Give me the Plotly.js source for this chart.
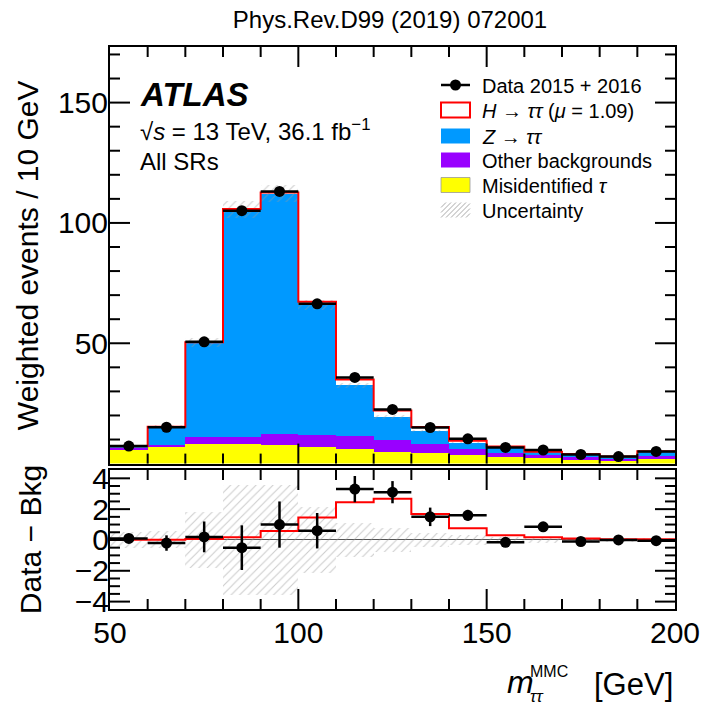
<!DOCTYPE html>
<html>
<head>
<meta charset="utf-8">
<script src="https://cdn.plot.ly/plotly-3.0.1.min.js"></script>
<style>html,body{margin:0;padding:0;background:#fff;}#chart{width:704px;height:710px;}</style>
</head>
<body>
<div id="chart"></div>
<script>
// ---- data ----
const binCenters = [55, 65, 75, 85, 95, 105, 115, 125, 135, 145, 155, 165, 175, 185, 195];
const misidTau   = [5.6, 6.7, 8.3, 8.0, 7.8, 6.7, 6.1, 4.8, 4.4, 3.6, 2.8, 2.2, 1.7, 1.1, 1.9];
const otherBkg   = [0.8, 1.1, 2.8, 3.1, 4.7, 5.3, 5.3, 5.2, 3.9, 2.4, 1.6, 1.4, 1.1, 0.8, 1.1];
const zTauTau    = [0.8, 7.5, 39.3, 94.5, 99.6, 53.8, 21.1, 9.4, 5.2, 2.7, 2.45, 1.2, 1.1, 1.0, 2.1];
const hTauTau    = [0.02, 0.02, 0.06, 0.17, 0.58, 1.45, 2.45, 2.68, 1.69, 0.76, 0.30, 0.17, 0.09, 0.04, 0.04];
const dataVals   = [7.3, 15.1, 50.6, 105.1, 113.1, 66.4, 35.8, 22.5, 15.0, 10.3, 6.7, 5.65, 3.8, 2.9, 5.05];
const dataErr    = [0.3, 0.5, 1.0, 1.45, 1.5, 1.15, 0.85, 0.72, 0.6, 0.35, 0.2, 0.3, 0.2, 0.15, 0.15];
const bkgUnc     = [0.5, 0.55, 1.8, 3.55, 3.55, 2.15, 1.08, 0.75, 0.45, 0.3, 0.2, 0.2, 0.15, 0.15, 0.15];
const xTickVals  = [50, 100, 150, 200];
const yTickVals  = [50, 100, 150];
const rTickVals  = [-4, -2, 0, 2, 4];
const xRange = [50, 200], yRange = [0, 173.1], rRange = [-4.48, 4.54];

// ---- derived ----
const binW = 10;
const edges = binCenters.map(c => c - binW / 2).concat([binCenters[binCenters.length - 1] + binW / 2]);
const base2 = misidTau.map((v, i) => v + otherBkg[i]);
const bkg = base2.map((v, i) => v + zTauTau[i]);
const sigTop = bkg.map((v, i) => v + hTauTau[i]);
const ext = a => a.concat([a[a.length - 1]]);
const diff = dataVals.map((v, i) => v - bkg[i]);

const FONT = 'Liberation Sans, Arial, Helvetica, sans-serif';
const hatch = {shape: '/', fgcolor: '#9a9a9a', bgcolor: 'rgba(0,0,0,0)', size: 6, solidity: 0.18, fillmode: 'overlay'};

// pixel geometry (plot area: x 110..675, y 47..609)
const L = 110, T = 47, PW = 565, PH = 562;
const px = x => (x - L) / PW;
const py = y => (T + PH - y) / PH;
const mainDom = [py(463.6), 1], ratioDom = [0, py(470)];

const traces = [
  {type: 'bar', x: binCenters, y: misidTau, base: 0, width: binW, xaxis: 'x', yaxis: 'y',
   marker: {color: '#ffff00', line: {width: 0}, opacity: 1}},
  {type: 'bar', x: binCenters, y: otherBkg, base: misidTau, width: binW, xaxis: 'x', yaxis: 'y',
   marker: {color: '#9900ff', line: {width: 0}, opacity: 1}},
  {type: 'bar', x: binCenters, y: zTauTau, base: base2, width: binW, xaxis: 'x', yaxis: 'y',
   marker: {color: '#0099ff', line: {width: 0}, opacity: 1}},
  {type: 'bar', x: binCenters, y: bkgUnc.map(u => 2 * u), base: bkg.map((b, i) => b - bkgUnc[i]), width: binW,
   xaxis: 'x', yaxis: 'y', marker: {color: 'rgba(0,0,0,0)', line: {width: 0}, pattern: hatch}},
  {type: 'scatter', mode: 'lines', x: edges, y: ext(sigTop), xaxis: 'x', yaxis: 'y',
   line: {shape: 'hv', color: '#ff0000', width: 2}},
  {type: 'scatter', mode: 'markers', x: binCenters, y: dataVals, xaxis: 'x', yaxis: 'y',
   marker: {color: '#000', size: 11},
   error_x: {type: 'constant', value: binW / 2, thickness: 2.5, width: 0, color: '#000'},
   error_y: {type: 'data', array: dataErr, thickness: 2.5, width: 0, color: '#000'}},
  // ratio panel
  {type: 'bar', x: binCenters, y: bkgUnc.map(u => 2 * u), base: bkgUnc.map(u => -u), width: binW,
   xaxis: 'x2', yaxis: 'y2', marker: {color: 'rgba(0,0,0,0)', line: {width: 0}, pattern: hatch}},
  {type: 'scatter', mode: 'lines', x: edges, y: ext(hTauTau), xaxis: 'x2', yaxis: 'y2',
   line: {shape: 'hv', color: '#ff0000', width: 2}},
  {type: 'scatter', mode: 'markers', x: binCenters, y: diff, xaxis: 'x2', yaxis: 'y2',
   marker: {color: '#000', size: 11},
   error_x: {type: 'constant', value: binW / 2, thickness: 2.5, width: 0, color: '#000'},
   error_y: {type: 'data', array: dataErr, thickness: 2.5, width: 0, color: '#000'}}
];

const axCommon = {showline: true, linewidth: 2, linecolor: '#000', mirror: true, ticks: '',
  showgrid: false, zeroline: false, tickfont: {family: FONT, size: 30, color: '#000'}};

const shapes = [];
const annotations = [];
const ann = (text, x, y, size, opts) => annotations.push(Object.assign({
  text: text, xref: 'paper', yref: 'paper', x: px(x), y: py(y), xanchor: 'left', yanchor: 'middle',
  showarrow: false, font: {family: FONT, size: size, color: '#000'}}, opts || {}));

// ROOT-style inside tick marks on all four sides (paper-space lines placed by the axis ranges)
const steps = (lo, hi, d) => { const out = []; for (let v = Math.ceil(lo / d - 1e-9) * d; v <= hi + 1e-9; v += d) out.push(+v.toFixed(6)); return out; };
const tickLine = {color: '#000', width: 2};
const xToPaper = v => (v - xRange[0]) / (xRange[1] - xRange[0]);
function panelTicks(yr, dom, xMaj, xMin, yMaj, yMin) {
  const yToPaper = v => dom[0] + (v - yr[0]) / (yr[1] - yr[0]) * (dom[1] - dom[0]);
  const ln = (x0, y0, x1, y1) => shapes.push({type: 'line', xref: 'paper', yref: 'paper', x0, y0, x1, y1, line: tickLine});
  [[xMaj, 20], [xMin, 10]].forEach(([vals, len]) => vals.forEach(v => {
    const xp = xToPaper(v), f = len / PH;
    ln(xp, dom[0], xp, dom[0] + f); ln(xp, dom[1], xp, dom[1] - f);
  }));
  [[yMaj, 20], [yMin, 10]].forEach(([vals, len]) => vals.forEach(v => {
    const yp = yToPaper(v), f = len / PW;
    ln(0, yp, f, yp); ln(1, yp, 1 - f, yp);
  }));
}
const xMinor = steps(xRange[0] + 1, xRange[1] - 1, 10).filter(v => xTickVals.indexOf(v) < 0);
const xMajIn = xTickVals.filter(v => v > xRange[0] && v < xRange[1]);
panelTicks(yRange, mainDom, xMajIn, xMinor, yTickVals, steps(10, yRange[1] - 1, 10).filter(v => yTickVals.indexOf(v) < 0));
panelTicks(rRange, ratioDom, xMajIn, xMinor, rTickVals, steps(rRange[0] + 0.1, rRange[1] - 0.1, 0.5).filter(v => rTickVals.indexOf(v) < 0));

// ATLAS label
ann('<b><i>ATLAS</i></b>', 138, 95, 33);
ann('√<i>s</i> = 13 TeV, 36.1 fb<sup>−1</sup>', 138, 130, 24);
ann('All SRs', 138, 162, 24);

// legend (drawn by hand, ROOT style)
const lx0 = 441, lx1 = 470, ltx = 480;
const rows = [85, 110, 136, 160, 185, 210];
const labels = ['Data 2015 + 2016', '<i>H</i> → <i>ττ</i> (<i>μ</i> = 1.09)', '<i>Z</i> → <i>ττ</i>',
  'Other backgrounds', 'Misidentified <i>τ</i>', 'Uncertainty'];
labels.forEach((t, i) => ann(t, ltx, rows[i] + 1, 20));
const box = (y, fill, lc, lw) => shapes.push({type: 'rect', xref: 'paper', yref: 'paper',
  x0: px(lx0), x1: px(lx1), y0: py(y + 7.5), y1: py(y - 7.5), fillcolor: fill, line: {color: lc, width: lw}});
shapes.push({type: 'line', xref: 'paper', yref: 'paper', x0: px(lx0), x1: px(lx1), y0: py(rows[0]), y1: py(rows[0]),
  line: {color: '#000', width: 2.5}});
shapes.push({type: 'circle', xref: 'paper', yref: 'paper', x0: px(450), x1: px(461), y0: py(rows[0] + 5.5), y1: py(rows[0] - 5.5),
  fillcolor: '#000', line: {color: '#000', width: 0}});
box(rows[1], '#ffffff', '#ff0000', 2);
box(rows[2], '#0099ff', '#0099ff', 0);
box(rows[3], '#9900ff', '#9900ff', 0);
box(rows[4], '#ffff00', '#999999', 0.8);
// hatched legend box
(function () {
  const yb = rows[5] + 7.5, yt = rows[5] - 7.5, h = 15;
  for (let k = -h; k < (lx1 - lx0); k += 5) {
    let xa = lx0 + k, ya = yb, xb = lx0 + k + h, yb2 = yt;
    if (xa < lx0) { ya = yb - (lx0 - xa); xa = lx0; }
    if (xb > lx1) { yb2 = yt + (xb - lx1); xb = lx1; }
    if (xb <= xa) continue;
    shapes.push({type: 'line', xref: 'paper', yref: 'paper', x0: px(xa), y0: py(ya), x1: px(xb), y1: py(yb2),
      line: {color: '#aaaaaa', width: 1}});
  }
})();

// x-axis title (ROOT style, right aligned)
ann('<i>m</i>', 505, 682, 32);
ann('MMC', 528, 671, 16);
ann('<i>ττ</i>', 528, 696, 17);
ann('[GeV]', 675, 684, 31, {xanchor: 'right'});

const layout = {
  width: 704, height: 710,
  margin: {l: L, r: 704 - L - PW, t: T, b: 710 - T - PH, pad: 0},
  paper_bgcolor: '#fff', plot_bgcolor: 'rgba(0,0,0,0)',
  showlegend: false, barmode: 'overlay', bargap: 0,
  font: {family: FONT, color: '#000'},
  title: {text: 'Phys.Rev.D99 (2019) 072001', font: {family: FONT, size: 24, color: '#000'},
    xref: 'container', yref: 'container', x: 0.554, y: 1 - 20 / 710, xanchor: 'center', yanchor: 'middle'},
  xaxis: Object.assign({}, axCommon, {domain: [0, 1], anchor: 'y', range: xRange, tickvals: xTickVals,
    showticklabels: false, matches: 'x2'}),
  yaxis: Object.assign({}, axCommon, {domain: mainDom, anchor: 'x', range: yRange, tickvals: yTickVals,
    ticklabelstandoff: -6,
    title: {text: 'Weighted events / 10 GeV', font: {family: FONT, size: 30, color: '#000'}, standoff: 10}}),
  xaxis2: Object.assign({}, axCommon, {domain: [0, 1], anchor: 'y2', range: xRange, tickvals: xTickVals,
    ticklabelstandoff: -4}),
  yaxis2: Object.assign({}, axCommon, {domain: ratioDom, anchor: 'x2', range: rRange, tickvals: rTickVals,
    ticklabelstandoff: -7, zeroline: true, zerolinecolor: '#555', zerolinewidth: 1,
    title: {text: 'Data − Bkg', font: {family: FONT, size: 30, color: '#000'}, standoff: 24}}),
  shapes: shapes,
  annotations: annotations
};

Plotly.newPlot('chart', traces, layout, {displayModeBar: false, staticPlot: true});
</script>
</body>
</html>
